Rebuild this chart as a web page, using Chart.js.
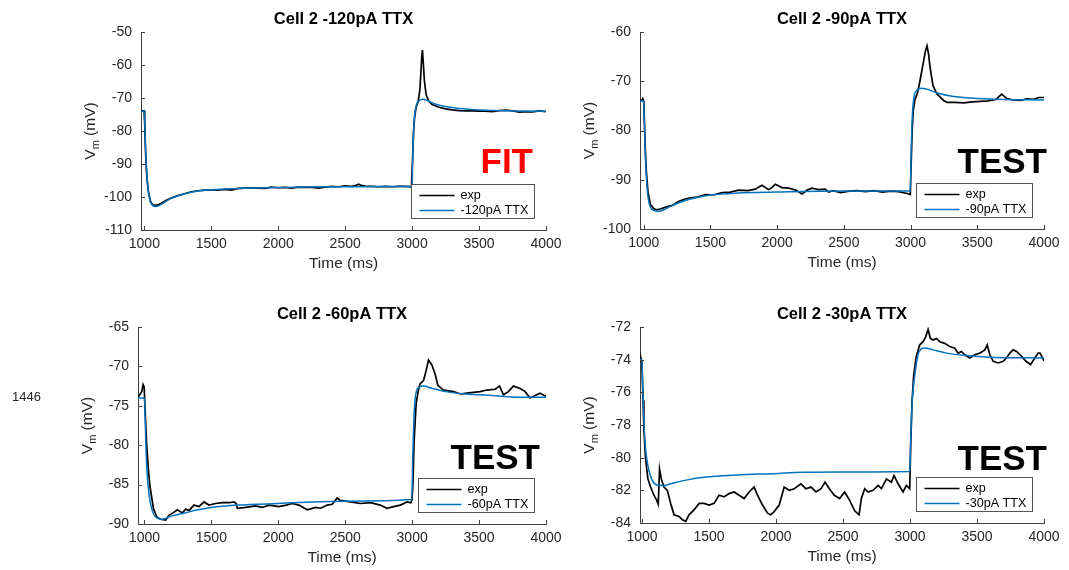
<!DOCTYPE html>
<html>
<head>
<meta charset="utf-8">
<style>
  body { margin: 0; background: #fff; width: 1069px; height: 570px; position: relative; overflow: hidden; }
  canvas { position: absolute; }
  #page-num { position: absolute; left: 12px; top: 389px; font: 13px "Liberation Sans", Arial, sans-serif; color: #262626; }
</style>
</head>
<body>
<canvas id="p120"></canvas>
<canvas id="p90"></canvas>
<canvas id="p60"></canvas>
<canvas id="p30"></canvas>
<div id="page-num">1446</div>

<script src="https://cdn.jsdelivr.net/npm/chart.js"></script>
<script>
// time axis ticks (ms), shared by all four panels
const xTicks = [1000, 1500, 2000, 2500, 3000, 3500, 4000];

// -120 pA
const yTicks120 = [-110, -100, -90, -80, -70, -60, -50];
const t120Exp = [975, 990, 998, 1003, 1008, 1014, 1020, 1030, 1045, 1060, 1080, 1100, 1130, 1165, 1200, 1250, 1300, 1350, 1400, 1450, 1500, 1550, 1600, 1650, 1700, 1750, 1800, 1850, 1900, 1950, 2000, 2050, 2100, 2150, 2200, 2250, 2300, 2350, 2400, 2450, 2500, 2550, 2580, 2600, 2620, 2650, 2700, 2750, 2800, 2850, 2900, 2950, 2995, 3003, 3010, 3018, 3030, 3045, 3058, 3066, 3072, 3077, 3083, 3092, 3105, 3125, 3150, 3200, 3250, 3300, 3350, 3400, 3450, 3500, 3550, 3600, 3650, 3700, 3750, 3800, 3850, 3900, 3950, 4000];
const v120Exp = [-73.8, -73.9, -73.9, -78, -85, -91, -94.5, -98.3, -101.2, -102.3, -102.6, -102.4, -101.8, -101.0, -100.3, -99.6, -99.0, -98.4, -98.1, -97.9, -97.8, -97.9, -97.7, -97.9, -97.4, -97.3, -97.2, -97.3, -97.4, -97.0, -97.2, -97.1, -97.3, -97.0, -97.1, -97.1, -97.3, -97.0, -96.8, -96.9, -96.6, -96.8, -96.5, -96.1, -96.5, -96.7, -96.8, -96.9, -96.8, -96.9, -96.8, -96.8, -96.9, -89, -81, -76, -72.8, -71.2, -67.5, -62, -57.5, -55.5, -59, -65, -69, -71, -72, -72.8, -73.3, -73.6, -73.8, -73.9, -73.9, -74.0, -74.0, -74.1, -73.8, -73.7, -73.9, -74.3, -74.1, -74.2, -73.9, -74.1];
const t120Fit = [975, 1000, 1004, 1010, 1018, 1028, 1042, 1060, 1085, 1110, 1150, 1200, 1250, 1300, 1400, 1500, 1600, 1800, 2000, 2200, 2500, 2800, 3000, 3004, 3010, 3018, 3030, 3050, 3084, 3120, 3170, 3250, 3350, 3500, 3700, 4000];
const v120Fit = [-74, -74, -78.5, -86, -92.5, -97.5, -101, -102.5, -102.9, -102.6, -101.6, -100.4, -99.6, -99.0, -98.2, -97.8, -97.6, -97.3, -97.1, -97.0, -96.9, -96.8, -96.8, -89, -80.5, -75.5, -72.4, -70.9, -70.4, -70.9, -71.8, -72.6, -73.2, -73.6, -73.9, -74.0];

// -90 pA
const yTicks90 = [-100, -90, -80, -70, -60];
const t90Exp = [972, 985, 993, 1000, 1005, 1012, 1020, 1032, 1050, 1075, 1100, 1130, 1170, 1214, 1260, 1300, 1339, 1400, 1463, 1520, 1588, 1650, 1712, 1780, 1837, 1860, 1886, 1936, 1960, 1986, 2036, 2086, 2140, 2186, 2225, 2260, 2310, 2360, 2385, 2420, 2475, 2540, 2600, 2660, 2724, 2790, 2849, 2910, 2974, 2998, 3005, 3012, 3020, 3032, 3052, 3072, 3097, 3110, 3123, 3135, 3145, 3168, 3198, 3248, 3274, 3330, 3400, 3460, 3523, 3580, 3640, 3683, 3720, 3770, 3820, 3870, 3920, 3960, 4000];
const v90Exp = [-73.8, -73.9, -73.5, -74.0, -78, -84, -88.5, -92.5, -95.0, -95.9, -96.1, -95.9, -95.5, -95.2, -94.4, -94.0, -93.7, -93.5, -93.0, -93.1, -92.6, -92.5, -92.1, -92.2, -91.9, -91.5, -91.1, -92.0, -91.6, -90.9, -91.6, -91.7, -92.1, -92.9, -92.1, -91.7, -92.0, -91.9, -92.5, -92.2, -92.6, -92.3, -92.2, -92.4, -92.2, -92.5, -92.3, -92.4, -92.8, -93.0, -86, -80, -76, -73.8, -72.4, -69.7, -66, -64, -62.8, -64.5, -67, -70.9, -72.6, -73.9, -74.3, -74.3, -74.4, -74.2, -74.1, -74.0, -73.7, -72.6, -73.5, -73.8, -73.9, -73.6, -73.7, -73.3, -73.3];
const t90Fit = [972, 1000, 1005, 1012, 1020, 1032, 1050, 1075, 1110, 1150, 1200, 1300, 1400, 1500, 1700, 2000, 2500, 2998, 3004, 3010, 3018, 3030, 3050, 3082, 3120, 3200, 3300, 3450, 3700, 4000];
const v90Fit = [-74, -74, -78.5, -85, -89.5, -93.5, -95.6, -96.2, -96.4, -96.1, -95.4, -94.3, -93.6, -93.1, -92.7, -92.5, -92.3, -92.3, -85, -79, -75, -72.6, -71.8, -71.4, -71.6, -72.4, -73.0, -73.4, -73.7, -73.8];

// -60 pA
const yTicks60 = [-90, -85, -80, -75, -70, -65];
const t60Exp = [952, 965, 980, 990, 998, 1005, 1017, 1030, 1042, 1067, 1092, 1120, 1159, 1183, 1221, 1246, 1283, 1308, 1333, 1370, 1407, 1445, 1482, 1532, 1580, 1631, 1669, 1685, 1694, 1756, 1830, 1880, 1930, 2004, 2060, 2104, 2154, 2216, 2278, 2316, 2366, 2403, 2440, 2464, 2538, 2613, 2688, 2762, 2812, 2862, 2912, 2961, 2990, 2998, 3005, 3015, 3030, 3048, 3060, 3085, 3105, 3122, 3147, 3172, 3192, 3234, 3270, 3309, 3359, 3408, 3458, 3508, 3558, 3620, 3653, 3682, 3719, 3757, 3807, 3844, 3881, 3919, 3956, 4000];
const v60Exp = [-73.9, -73.6, -73.2, -72.3, -72.6, -75.5, -80, -83.2, -85.3, -88.0, -89.1, -89.4, -89.5, -88.9, -88.5, -88.2, -88.6, -88.1, -88.3, -87.6, -87.8, -87.2, -87.6, -87.4, -87.3, -87.3, -87.2, -87.4, -88.0, -87.9, -87.7, -87.9, -87.6, -87.8, -87.6, -87.4, -87.6, -88.2, -87.9, -88.0, -87.6, -87.5, -86.7, -87.0, -87.2, -87.4, -87.3, -87.6, -88.0, -87.8, -87.6, -87.2, -87.3, -87.0, -85.3, -79.4, -74.7, -72.9, -72.2, -71.8, -70.5, -69.2, -69.8, -71.0, -72.4, -73.0, -73.1, -73.2, -73.5, -73.4, -73.3, -73.2, -73.0, -72.9, -72.5, -73.6, -73.2, -72.5, -72.8, -73.2, -74.0, -73.7, -73.4, -73.8];
const t60Fit = [952, 1000, 1005, 1012, 1020, 1035, 1060, 1090, 1135, 1200, 1300, 1400, 1500, 1700, 2000, 2500, 2998, 3004, 3012, 3022, 3035, 3055, 3085, 3150, 3250, 3400, 3600, 3800, 4000];
const v60Fit = [-74, -74, -76.5, -80.5, -83.5, -86.3, -88.4, -89.2, -89.4, -89.0, -88.6, -88.2, -87.9, -87.6, -87.4, -87.1, -86.9, -82, -77, -74.2, -73.0, -72.6, -72.5, -72.8, -73.2, -73.5, -73.7, -73.9, -73.9];

// -30 pA
const yTicks30 = [-84, -82, -80, -78, -76, -74, -72];
const t30Exp = [985, 992, 998, 1002, 1008, 1014, 1027, 1044, 1064, 1089, 1109, 1121, 1131, 1144, 1164, 1189, 1214, 1239, 1276, 1301, 1326, 1351, 1388, 1426, 1463, 1500, 1538, 1575, 1612, 1650, 1687, 1725, 1762, 1799, 1837, 1862, 1899, 1937, 1961, 1986, 2024, 2061, 2098, 2136, 2186, 2223, 2261, 2298, 2336, 2366, 2398, 2435, 2475, 2512, 2549, 2587, 2620, 2637, 2662, 2687, 2724, 2762, 2787, 2824, 2861, 2881, 2911, 2948, 2973, 2998, 3005, 3015, 3027, 3047, 3072, 3097, 3117, 3135, 3152, 3172, 3197, 3222, 3259, 3297, 3334, 3359, 3384, 3409, 3446, 3484, 3521, 3558, 3576, 3596, 3621, 3658, 3695, 3720, 3745, 3770, 3795, 3833, 3865, 3900, 3932, 3957, 3970, 3990, 4000];
const v30Exp = [-74.0, -73.9, -74.1, -75.0, -76.5, -78.3, -80.1, -81.3, -81.8, -82.3,
  -82.6, -82.85, -80.7, -81.3, -81.8, -82.0, -82.8, -83.5, -83.6, -83.8,
  -83.9, -83.5, -83.2, -82.8, -82.8, -82.9, -82.8, -82.3, -82.4, -82.2,
  -82.1, -82.3, -82.5, -82.1, -81.8, -82.3, -82.9, -83.4, -83.5, -83.3,
  -82.9, -81.8, -82.0, -81.9, -81.6, -81.9, -81.8, -82.1, -81.9, -81.5,
  -81.9, -82.3, -82.5, -82.1, -82.6, -83.25, -83.5, -82.5, -81.9, -82.1,
  -82.0, -81.7, -81.9, -81.3, -81.5, -81.1, -81.6, -82.1, -81.7, -81.9,
  -79.3, -76.6, -75.0, -73.8, -73.1, -72.9, -72.6, -72.15, -72.7, -72.8,
  -72.7, -72.9, -73.0, -73.2, -73.3, -73.6, -73.5, -73.7, -73.9, -73.7,
  -73.6, -73.4, -73.1, -73.7, -74.1, -74.2, -74.1, -73.9, -73.6, -73.4,
  -73.5, -73.8, -74.1, -74.3, -73.9, -73.6, -73.6, -73.9, -74.1];
const t30Fit = [985, 1000, 1005, 1014, 1027, 1040, 1052, 1077, 1114, 1164, 1214, 1338, 1463, 1712, 1961, 2211, 2460, 2998, 3005, 3017, 3035, 3060, 3085, 3110, 3172, 3272, 3421, 3596, 4000];
const v30Fit = [-74.0, -74.0, -75.5, -77.8, -79.5, -80.3, -80.8, -81.4, -81.67, -81.7, -81.6, -81.36, -81.2, -81.06, -80.98, -80.9, -80.88, -80.85, -79.0, -76.5, -75.0, -73.7, -73.33, -73.28, -73.4, -73.6, -73.75, -73.85, -73.9];

const FONT = '"Liberation Sans", Arial, Helvetica, sans-serif';
const AXIS = '#404040';
const TXT = '#262626';
const FIT_BLUE = '#0072bd';

function pts(t, v) {
  return t.map((x, i) => ({ x: x, y: v[i] }));
}

// matlab-ish decorations: inward ticks, bold title, V_m label, tag text and legend box
const matlabLook = {
  id: 'matlab',
  afterDraw(chart, args, o) {
    const ctx = chart.ctx;
    const a = chart.chartArea;
    const xs = chart.scales.x, ys = chart.scales.y;
    ctx.save();

    ctx.strokeStyle = AXIS;
    ctx.lineWidth = 1;
    ctx.beginPath();
    xs.ticks.forEach(tk => {
      const px = Math.round(xs.getPixelForValue(tk.value)) + 0.5;
      ctx.moveTo(px, a.bottom);
      ctx.lineTo(px, a.bottom - 4);
    });
    ys.ticks.forEach(tk => {
      const py = Math.round(ys.getPixelForValue(tk.value)) + 0.5;
      ctx.moveTo(a.left, py);
      ctx.lineTo(a.left + 4, py);
    });
    ctx.stroke();

    // title
    ctx.fillStyle = '#000';
    ctx.font = 'bold 16.5px ' + FONT;
    ctx.textAlign = 'center';
    ctx.textBaseline = 'middle';
    ctx.fillText(o.title, (a.left + a.right) / 2, a.top - 13);

    // y label with subscript
    ctx.save();
    ctx.translate(a.left - 51, (a.top + a.bottom) / 2);
    ctx.rotate(-Math.PI / 2);
    ctx.fillStyle = TXT;
    ctx.textAlign = 'left';
    ctx.textBaseline = 'alphabetic';
    const big = '15.5px ' + FONT, small = '11px ' + FONT;
    ctx.font = big;
    const wV = ctx.measureText('V').width, wRest = ctx.measureText(' (mV)').width;
    ctx.font = small;
    const wm = ctx.measureText('m').width;
    let x = -(wV + wm + wRest) / 2;
    ctx.font = big;
    ctx.fillText('V', x, 5);
    x += wV;
    ctx.font = small;
    ctx.fillText('m', x, 9);
    x += wm;
    ctx.font = big;
    ctx.fillText(' (mV)', x, 5);
    ctx.restore();

    // FIT / TEST tag
    ctx.font = 'bold 35px ' + FONT;
    ctx.fillStyle = o.tagColor;
    ctx.textAlign = 'right';
    ctx.textBaseline = 'alphabetic';
    ctx.fillText(o.tag, a.right + o.tagDx, a.top + o.tagDy);

    // legend
    ctx.font = '12.6px ' + FONT;
    const tw = ctx.measureText(o.name).width;
    const bw = Math.round(tw + 55), bh = 34;
    const bx = Math.round(a.right - 12 - bw) + 0.5;
    const by = Math.round(a.bottom - 12 - bh) + 0.5;
    ctx.fillStyle = '#fff';
    ctx.fillRect(bx, by, bw, bh);
    ctx.strokeStyle = '#555';
    ctx.strokeRect(bx, by, bw, bh);
    const rows = [['exp', '#000'], [o.name, FIT_BLUE]];
    rows.forEach((r, i) => {
      const ry = by + 11 + i * 15;
      ctx.strokeStyle = r[1];
      ctx.lineWidth = 1.5;
      ctx.beginPath();
      ctx.moveTo(bx + 8, ry);
      ctx.lineTo(bx + 43, ry);
      ctx.stroke();
      ctx.fillStyle = '#000';
      ctx.textAlign = 'left';
      ctx.textBaseline = 'middle';
      ctx.fillText(r[0], bx + 49, ry);
    });
    ctx.restore();
  }
};

const panels = [
  { id: 'p120', title: 'Cell 2 -120pA TTX', name: '-120pA TTX', tag: 'FIT', tagColor: '#ff0000', tagDx: -13, tagDy: 141,
    tExp: t120Exp, vExp: v120Exp, tFit: t120Fit, vFit: v120Fit, xMin: 975, yTicks: yTicks120,
    box: { left: 0, top: 0, w: 570, h: 285 }, area: { l: 141, r: 546, t: 32, b: 230 } },
  { id: 'p90', title: 'Cell 2 -90pA TTX', name: '-90pA TTX', tag: 'TEST', tagColor: '#000', tagDx: 3, tagDy: 141,
    tExp: t90Exp, vExp: v90Exp, tFit: t90Fit, vFit: v90Fit, xMin: 972, yTicks: yTicks90,
    box: { left: 520, top: 0, w: 549, h: 285 }, area: { l: 640, r: 1044, t: 32, b: 229 } },
  { id: 'p60', title: 'Cell 2 -60pA TTX', name: '-60pA TTX', tag: 'TEST', tagColor: '#000', tagDx: -6, tagDy: 142,
    tExp: t60Exp, vExp: v60Exp, tFit: t60Fit, vFit: v60Fit, xMin: 952, yTicks: yTicks60,
    box: { left: 0, top: 285, w: 570, h: 285 }, area: { l: 138, r: 546, t: 327, b: 524 } },
  { id: 'p30', title: 'Cell 2 -30pA TTX', name: '-30pA TTX', tag: 'TEST', tagColor: '#000', tagDx: 3, tagDy: 143,
    tExp: t30Exp, vExp: v30Exp, tFit: t30Fit, vFit: v30Fit, xMin: 985, yTicks: yTicks30,
    box: { left: 520, top: 285, w: 549, h: 285 }, area: { l: 640, r: 1044, t: 327, b: 523 } }
];

function drawPanel(p) {
  const cv = document.getElementById(p.id);
  const bx = p.box, ar = p.area;
  cv.width = bx.w;
  cv.height = bx.h;
  cv.style.left = bx.left + 'px';
  cv.style.top = bx.top + 'px';
  const yW = ar.l - bx.left;
  const xH = bx.top + bx.h - ar.b;
  const titlePad = xH - 34 - 9.3;

  new Chart(cv, {
    type: 'line',
    data: {
      datasets: [
        { label: 'exp', data: pts(p.tExp, p.vExp), borderColor: '#000', borderWidth: 1.7,
          pointRadius: 0, tension: 0, order: 2 },
        { label: p.name, data: pts(p.tFit, p.vFit), borderColor: FIT_BLUE, borderWidth: 1.5,
          pointRadius: 0, cubicInterpolationMode: 'monotone', order: 1 }
      ]
    },
    options: {
      responsive: false,
      animation: false,
      devicePixelRatio: 1,
      layout: { padding: { left: 0, top: ar.t - bx.top, right: bx.left + bx.w - ar.r, bottom: 0 } },
      plugins: {
        legend: { display: false },
        tooltip: { enabled: false },
        matlab: { title: p.title, name: p.name, tag: p.tag, tagColor: p.tagColor, tagDx: p.tagDx, tagDy: p.tagDy }
      },
      scales: {
        x: {
          type: 'linear',
          min: p.xMin,
          max: 4000,
          grid: { display: false, drawTicks: false },
          border: { display: true, color: AXIS, width: 1 },
          afterBuildTicks: s => { s.ticks = xTicks.map(v => ({ value: v })); },
          afterFit: s => { s.height = xH; },
          ticks: { padding: 6, color: TXT, font: { family: FONT, size: 14 }, maxRotation: 0, autoSkip: false,
                   callback: v => String(v) },
          title: { display: true, text: 'Time (ms)', color: TXT, font: { family: FONT, size: 15.5 },
                   padding: { top: 0, bottom: titlePad } }
        },
        y: {
          type: 'linear',
          min: p.yTicks[0],
          max: p.yTicks[p.yTicks.length - 1],
          grid: { display: false, drawTicks: false },
          border: { display: true, color: AXIS, width: 1 },
          afterBuildTicks: s => { s.ticks = p.yTicks.map(v => ({ value: v })); },
          afterFit: s => { s.width = yW; },
          ticks: { padding: 9, color: TXT, font: { family: FONT, size: 14 }, autoSkip: false,
                   callback: v => String(v) }
        }
      }
    },
    plugins: [matlabLook]
  });
}

panels.forEach(drawPanel);
</script>
</body>
</html>
